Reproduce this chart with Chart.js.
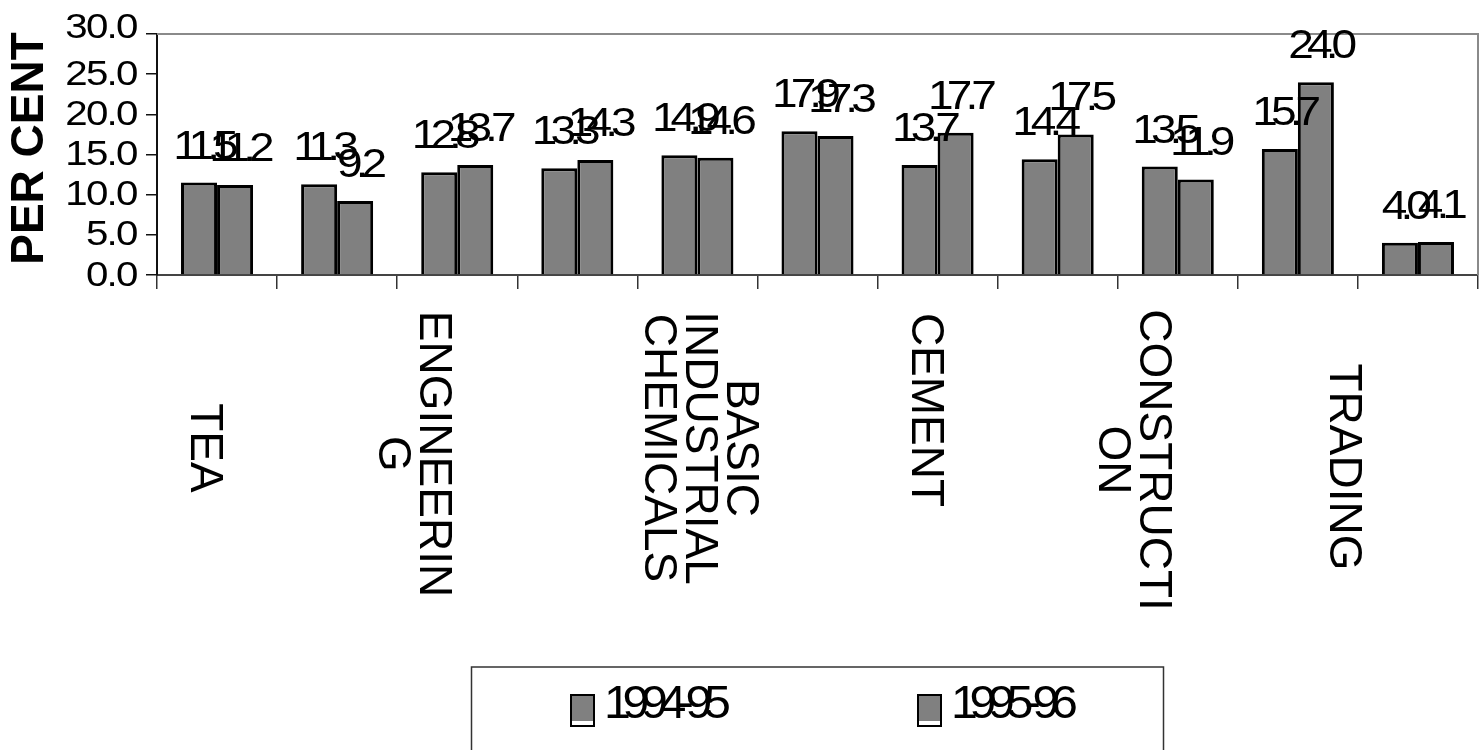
<!DOCTYPE html>
<html>
<head>
<meta charset="utf-8">
<script src="https://cdn.jsdelivr.net/npm/chart.js@4/dist/chart.umd.min.js"></script>
<style>
  html, body { margin: 0; padding: 0; background: #fff; }
  canvas { display: block; }
</style>
</head>
<body>
<canvas id="c" width="1482" height="750"></canvas>
<script>
// Sectors (only every other sector name is printed on the axis)
const categories = ['TEA', '', 'ENGINEERING', '', 'BASIC INDUSTRIAL CHEMICALS', '', 'CEMENT', '', 'CONSTRUCTION', '', 'TRADING'];
const seriesNames = ['1994-95', '1995-96'];
const values1994 = [11.5, 11.3, 12.8, 13.3, 14.9, 17.9, 13.7, 14.4, 13.5, 15.7, 4.0];
const values1995 = [11.2, 9.2, 13.7, 14.3, 14.6, 17.3, 17.7, 17.5, 11.9, 24.0, 4.1];
const yMin = 0, yMax = 30, yStep = 5;
const yTitle = 'PER CENT';

const SANS = '"Liberation Sans", Arial, sans-serif';
const BAR_FILL = '#808080';

// Wrap a label into lines no wider than maxW (long words are split by characters)
function wrapLabel(ctx, text, maxW) {
  const lines = [];
  let cur = '';
  for (const w of text.split(' ')) {
    const test = cur ? cur + ' ' + w : w;
    if (ctx.measureText(test).width <= maxW) { cur = test; continue; }
    if (cur) lines.push(cur);
    cur = w;
    while (ctx.measureText(cur).width > maxW) {
      let n = cur.length - 1;
      while (n > 1 && ctx.measureText(cur.slice(0, n)).width > maxW) n--;
      lines.push(cur.slice(0, n));
      cur = cur.slice(n);
    }
  }
  if (cur) lines.push(cur);
  return lines;
}

// Draw text with wide, tightly packed glyphs
function wideText(ctx, text, x, y, align, stretch, spacing) {
  ctx.save();
  ctx.translate(x, y);
  ctx.scale(stretch, 1);
  ctx.letterSpacing = spacing + 'px';
  const w = ctx.measureText(text).width + spacing; // drop trailing spacing
  let sx = 0;
  if (align === 'center') sx = -w / 2;
  else if (align === 'right') sx = -w;
  ctx.textAlign = 'left';
  ctx.fillText(text, sx, 0);
  ctx.restore();
}

// Gray frame on the top and right of the plot area
const plotFrame = {
  id: 'plotFrame',
  beforeDatasetsDraw(chart) {
    const { ctx, chartArea: a } = chart;
    ctx.save();
    ctx.strokeStyle = '#8a8a8a';
    ctx.lineWidth = 2;
    ctx.beginPath();
    ctx.moveTo(a.left, a.top);
    ctx.lineTo(a.right, a.top);
    ctx.lineTo(a.right, a.bottom);
    ctx.stroke();
    ctx.restore();
  }
};

// Value-axis numbers and title, placed from the scale's own ticks
const valueAxisLabels = {
  id: 'valueAxisLabels',
  afterDraw(chart) {
    const ctx = chart.ctx;
    const ys = chart.scales.y;
    const a = chart.chartArea;
    ctx.save();
    ctx.font = '35px ' + SANS;
    ctx.fillStyle = '#000';
    ctx.textBaseline = 'middle';
    ys.ticks.forEach(t => {
      // the topmost number sits a little higher, clear of the frame
      const lift = t.value === yMax ? -7 : 0;
      wideText(ctx, Number(t.value).toFixed(1), ys.right - 22, ys.getPixelForValue(t.value) + 1 + lift, 'right', 1.15, -1.5);
    });
    ctx.font = 'bold 46px ' + SANS;
    ctx.textAlign = 'center';
    ctx.translate(30, (a.top + a.bottom) / 2 - 6);
    ctx.rotate(-Math.PI / 2);
    ctx.fillText(yTitle, 0, 0);
    ctx.restore();
  }
};

// Value labels above each bar
const valueLabels = {
  id: 'valueLabels',
  afterDatasetsDraw(chart) {
    const ctx = chart.ctx;
    ctx.save();
    ctx.font = '40px ' + SANS;
    ctx.fillStyle = '#000';
    ctx.textBaseline = 'alphabetic';
    chart.data.datasets.forEach((ds, di) => {
      chart.getDatasetMeta(di).data.forEach((bar, i) => {
        wideText(ctx, ds.data[i].toFixed(1), bar.x, bar.y - 24, 'center', 1.15, -6);
      });
    });
    ctx.restore();
  }
};

// Category names written top-to-bottom below the axis
const categoryLabels = {
  id: 'categoryLabels',
  afterDraw(chart) {
    const ctx = chart.ctx;
    const xs = chart.scales.x;
    const bottom = chart.chartArea.bottom;
    // per-label shift of the text block (x, y from the axis line)
    const nudge = [[-13, 173], null, [-45, 179], null, [1, 173], null, [-13, 135], null, [-46, 185], null, [-75, 192]];
    const lineH = 41;
    ctx.save();
    ctx.font = '46px ' + SANS;
    ctx.fillStyle = '#000';
    ctx.textAlign = 'center';
    ctx.textBaseline = 'middle';
    chart.data.labels.forEach((label, i) => {
      if (!label) return;
      const lines = wrapLabel(ctx, label, 310);
      const nd = nudge[i] || [0, 175];
      const cx = xs.getPixelForValue(i) + nd[0];
      const cy = bottom + nd[1];
      ctx.save();
      ctx.translate(cx, cy);
      ctx.rotate(Math.PI / 2);
      lines.forEach((ln, k) => {
        ctx.fillText(ln, 0, (k - (lines.length - 1) / 2) * lineH);
      });
      ctx.restore();
    });
    ctx.restore();
  }
};

// Boxed legend under the chart
const boxedLegend = {
  id: 'boxedLegend',
  afterDraw(chart) {
    const ctx = chart.ctx;
    const a = chart.chartArea;
    const boxW = 692;
    const left = (a.left + a.right) / 2 - boxW / 2;
    const top = 667;
    ctx.save();
    ctx.strokeStyle = '#333';
    ctx.lineWidth = 1.5;
    ctx.strokeRect(left, top, boxW, 120);
    ctx.font = '46px ' + SANS;
    ctx.textBaseline = 'middle';
    chart.data.datasets.forEach((ds, i) => {
      const sx = left + 99.5 + i * 347;
      const sy = 695, sw = 23, sh = 31;
      ctx.fillStyle = '#fff';
      ctx.fillRect(sx, sy, sw, sh);
      ctx.fillStyle = ds.backgroundColor;
      ctx.fillRect(sx, sy, sw, sh - 5);
      ctx.strokeStyle = '#000';
      ctx.lineWidth = 2;
      ctx.strokeRect(sx, sy, sw, sh);
      ctx.fillStyle = '#000';
      wideText(ctx, ds.label, sx + sw + 10, 705, 'left', 1.05, -8);
    });
    ctx.restore();
  }
};

new Chart(document.getElementById('c'), {
  type: 'bar',
  data: {
    labels: categories,
    datasets: [
      { label: seriesNames[0], data: values1994, backgroundColor: BAR_FILL, borderColor: '#000', borderWidth: 3,
        categoryPercentage: 0.6, barPercentage: 1.0 },
      { label: seriesNames[1], data: values1995, backgroundColor: BAR_FILL, borderColor: '#000', borderWidth: 3,
        categoryPercentage: 0.6, barPercentage: 1.0 }
    ]
  },
  options: {
    responsive: false,
    devicePixelRatio: 1,
    animation: false,
    layout: { padding: { top: 34, right: 4, left: 0, bottom: 0 } },
    plugins: { legend: { display: false }, tooltip: { enabled: false } },
    scales: {
      x: {
        afterFit(scale) { scale.height = 475; },
        grid: { display: true, drawOnChartArea: false, drawTicks: true, tickLength: 14, color: '#333', lineWidth: 1.5 },
        border: { display: true, color: '#444', width: 2 },
        ticks: { display: false }
      },
      y: {
        min: yMin, max: yMax,
        afterFit(scale) { scale.width = 157; },
        grid: { display: true, drawOnChartArea: false, drawTicks: true, tickLength: 11, color: '#111', lineWidth: 1.5 },
        border: { display: true, color: '#111', width: 2 },
        ticks: {
          stepSize: yStep,
          autoSkip: false,
          display: false
        },
        title: { display: false }
      }
    }
  },
  plugins: [plotFrame, valueLabels, valueAxisLabels, categoryLabels, boxedLegend]
});
</script>
</body>
</html>
